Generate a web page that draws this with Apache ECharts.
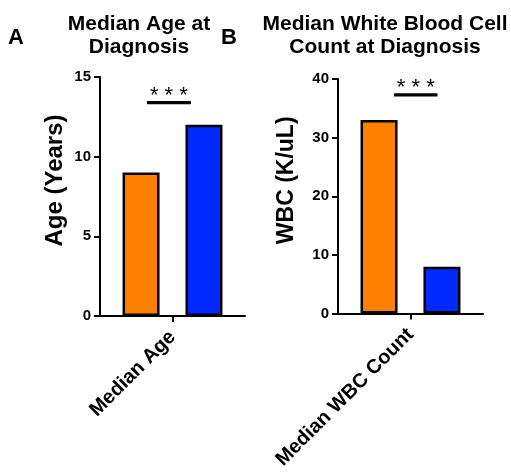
<!DOCTYPE html>
<html>
<head>
<meta charset="utf-8">
<script src="https://cdn.jsdelivr.net/npm/echarts@6/dist/echarts.min.js"></script>
<style>
html,body{margin:0;padding:0;background:#fff;}
#chart{width:511px;height:472px;}
</style>
</head>
<body>
<div id="chart"></div>
<script>
// ---- data ----
const panelLetters = ['A', 'B'];
const panelTitles = ['Median Age at\nDiagnosis', 'Median White Blood Cell\nCount at Diagnosis'];
const yAxisNames = ['Age (Years)', 'WBC (K/uL)'];
const categoriesA = ['Median Age'];
const categoriesB = ['Median WBC Count'];
const orangeA = [9.0];
const blueA = [12.0];
const orangeB = [33.0];
const blueB = [8.0];
const yMaxA = 15, yIntervalA = 5;
const yMaxB = 40, yIntervalB = 10;
const sigLabel = '* * *';
const sigLevelA = [13.4];
const sigLevelB = [37.3];

const FONT = '"Liberation Sans", Arial, Helvetica, sans-serif';
const ORANGE = '#FF8000';
const BLUE = '#002AFF';

const chart = echarts.init(document.getElementById('chart'), null, {renderer: 'canvas'});

function yAx(idx, max, interval, name, gap, nameSize) {
  return {
    type: 'value', gridIndex: idx, min: 0, max: max, interval: interval,
    name: name, nameLocation: 'middle', nameGap: gap,
    nameTextStyle: {fontFamily: FONT, fontWeight: 'bold', fontSize: nameSize, color: '#000', padding: [0, 0, 0, 32]},
    axisLine: {show: true, lineStyle: {color: '#000', width: 2}},
    axisTick: {show: true, length: 6, lineStyle: {color: '#000', width: 2}},
    axisLabel: {fontFamily: FONT, fontWeight: 'bold', fontSize: 15, color: '#000', margin: 9},
    splitLine: {show: false}
  };
}
function xAx(idx, cats) {
  return {
    type: 'category', gridIndex: idx, data: cats,
    axisLine: {show: true, lineStyle: {color: '#000', width: 2}},
    axisTick: {show: true, alignWithLabel: true, length: 6, lineStyle: {color: '#000', width: 2}},
    axisLabel: {fontFamily: FONT, fontWeight: 'bold', fontSize: 20, color: '#000', rotate: 45, margin: 18}
  };
}
function barSeries(idx, data, color) {
  return {
    type: 'bar', xAxisIndex: idx, yAxisIndex: idx, data: data,
    barWidth: 37, barGap: '70%',
    itemStyle: {color: color, borderColor: '#000', borderWidth: 2.5},
    silent: true
  };
}
function sigSeries(idx, level, left, right) {
  return {
    type: 'custom', xAxisIndex: idx, yAxisIndex: idx,
    data: level.map(v => [0, v]),
    silent: true, z: 5,
    renderItem: function (params, api) {
      const c = api.coord([api.value(0), api.value(1)]);
      const x0 = c[0] + left, x1 = c[0] + right;
      return {
        type: 'group',
        children: [
          {type: 'rect', shape: {x: x0, y: c[1] - 1.5, width: x1 - x0, height: 3.2}, style: {fill: '#000'}},
          {type: 'text', style: {text: sigLabel, x: (x0 + x1) / 2, y: c[1] + 4, align: 'center', verticalAlign: 'bottom',
            fontFamily: FONT, fontSize: 22, fill: '#000'}}
        ]
      };
    }
  };
}

const option = {
  backgroundColor: '#fff',
  animation: false,
  title: [
    {text: panelTitles[0], left: 134, top: 8, textAlign: 'center',
     textStyle: {fontFamily: FONT, fontWeight: 'bold', fontSize: 21, lineHeight: 23, color: '#000'}},
    {text: panelTitles[1], left: 380, top: 8, textAlign: 'center',
     textStyle: {fontFamily: FONT, fontWeight: 'bold', fontSize: 21, lineHeight: 23, color: '#000'}},
    {text: panelLetters[0], left: 3, top: 22,
     textStyle: {fontFamily: FONT, fontWeight: 'bold', fontSize: 22, color: '#000'}},
    {text: panelLetters[1], left: 216, top: 22,
     textStyle: {fontFamily: FONT, fontWeight: 'bold', fontSize: 22, color: '#000'}}
  ],
  grid: [
    {left: 100, right: 266, top: 77, bottom: 156},
    {left: 338, right: 28, top: 79, bottom: 156}
  ],
  xAxis: [xAx(0, categoriesA), xAx(1, categoriesB)],
  yAxis: [yAx(0, yMaxA, yIntervalA, yAxisNames[0], 33, 24), yAx(1, yMaxB, yIntervalB, yAxisNames[1], 40, 23)],
  series: [
    barSeries(0, orangeA, ORANGE),
    barSeries(0, blueA, BLUE),
    barSeries(1, orangeB, ORANGE),
    barSeries(1, blueB, BLUE),
    sigSeries(0, sigLevelA, -25.6, 18.4),
    sigSeries(1, sigLevelB, -16.4, 27)
  ]
};
chart.setOption(option);
</script>
</body>
</html>
